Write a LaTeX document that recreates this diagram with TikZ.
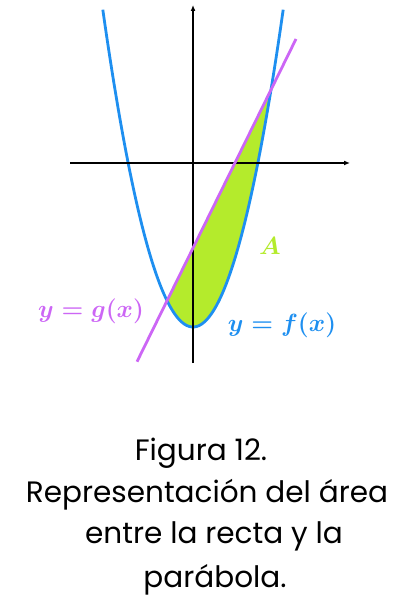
\documentclass[tikz,border=0pt]{standalone}
\usepackage{fontspec}
\usepackage{amsmath}
\newfontfamily\capfont{Poppins}
\usetikzlibrary{arrows.meta}
\definecolor{parab}{HTML}{1E8FF0}
\definecolor{recta}{HTML}{CC66F5}
\definecolor{areacol}{HTML}{B4EB2C}
\tikzset{
  axis/.style={line width=1.3pt,-{Latex[length=6pt,width=5pt]}},
  curve/.style={line width=2.8pt},
  caption/.style={font=\capfont\fontsize{29.5}{34}\selectfont,anchor=base,inner sep=0pt},
  mlabel/.style={font=\fontsize{24}{27}\selectfont\boldmath,inner sep=0pt}
}
\begin{document}
\begin{tikzpicture}[x=1pt,y=-1pt]
\useasboundingbox (0,0) rectangle (415,601);
% area
\fill[areacol] (167,300.7) -- (271,89.7)
  -- plot[domain=78:-25.96,samples=80,variable=\u] ({193+\u},{327-0.039*\u*\u}) -- cycle;
% parabola
\draw[curve,parab,domain=-90.2:90.2,samples=120,variable=\u] plot ({193+\u},{327-0.039*\u*\u});
% axes
\coordinate (xs) at (70,163);
\coordinate (xe) at (350,163);
\coordinate (ys) at (193,363);
\coordinate (ye) at (193,5);
\draw[axis] (xs) -- (xe);
\draw[axis] (ys) -- (ye);
% line
\coordinate (ls) at (137,361.7);
\coordinate (le) at (296,39);
\draw[curve,recta] (ls) -- (le);
% labels
\node[mlabel,text=recta] (g) at (91,311) {$y=g(x)$};
\node[mlabel,text=parab] (f) at (282,325) {$y=f(x)$};
\node[mlabel,text=areacol] (A) at (270,246) {$A$};
% caption
\node[caption] (c1) at (201,460) {Figura 12.};
\node[caption] (c2) at (207,502) {Representación del área};
\node[caption] (c3) at (214,543) {entre la recta y la};
\node[caption] (c4) at (215,587) {parábola.};
\end{tikzpicture}
\end{document}
